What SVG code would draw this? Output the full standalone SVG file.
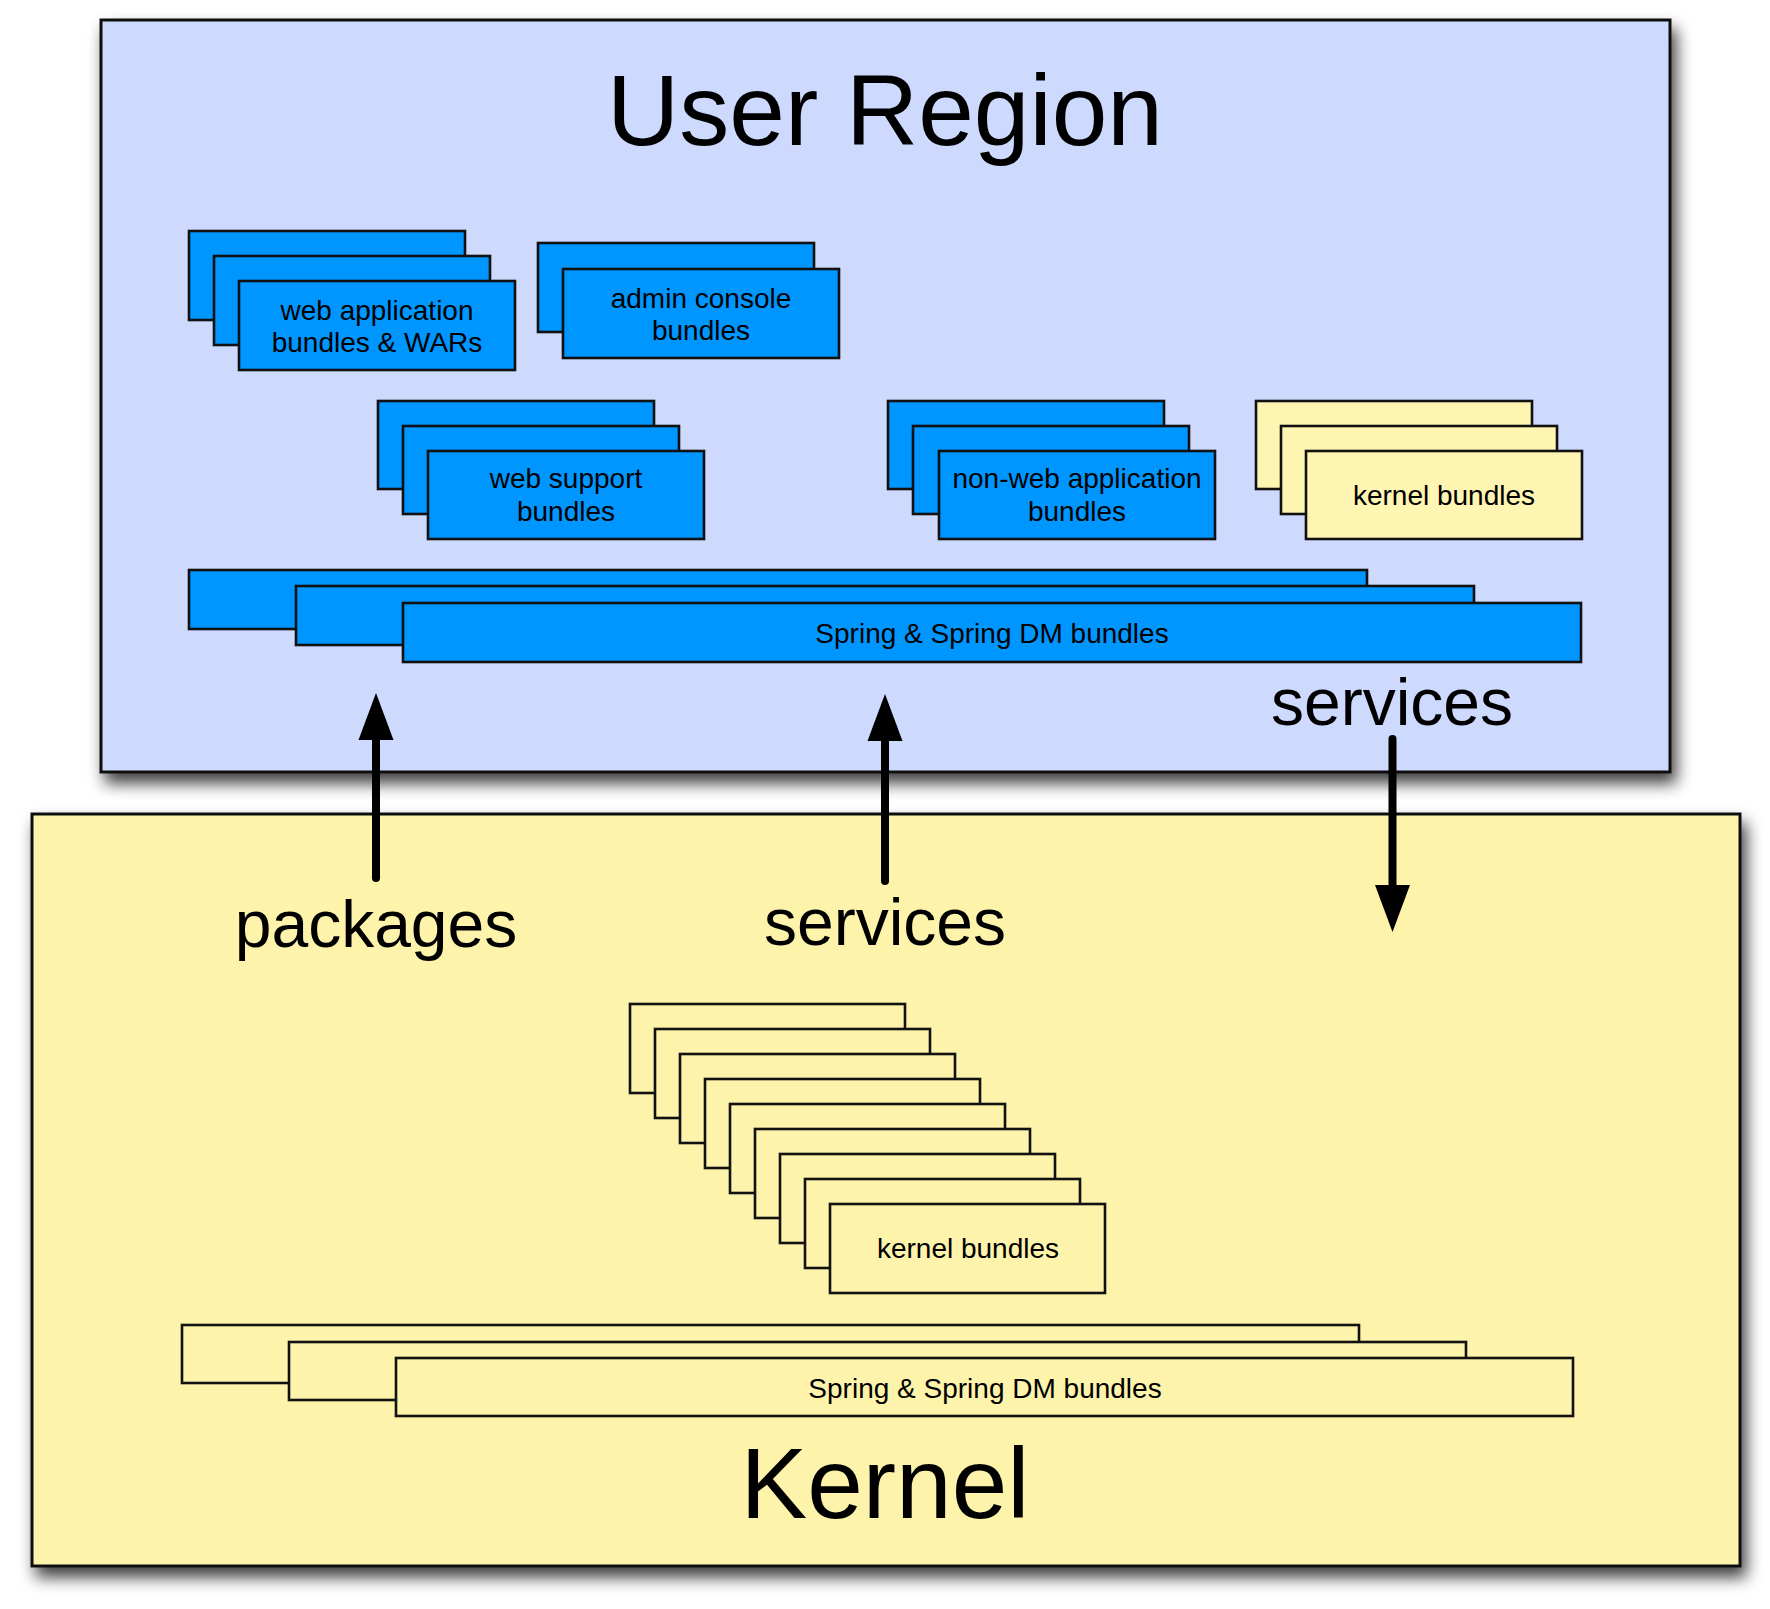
<svg xmlns="http://www.w3.org/2000/svg" width="1770" height="1609" viewBox="0 0 1770 1609">
<defs>
<filter id="shadow" x="-5%" y="-5%" width="115%" height="120%">
<feDropShadow dx="5" dy="10" stdDeviation="8" flood-color="#000" flood-opacity="0.75"/>
</filter>
<marker id="head" markerUnits="userSpaceOnUse" markerWidth="48" markerHeight="36" viewBox="0 0 48 36" refX="0" refY="18" orient="auto">
<path d="M0,0.5 L47,18 L0,35.5 z" fill="#000"/>
</marker>
</defs>
<style>
.region{stroke:#111;stroke-width:3}
.user{fill:#cdd9fd}
.kern{fill:#fdf3ab}
.b{fill:#0096ff;stroke:#111;stroke-width:2.6}
.k{fill:#fff5b2;stroke:#111;stroke-width:2.6}
.kk{fill:#fdf3ab;stroke:#111;stroke-width:2.6}
text{font-family:"Liberation Sans",Arial,Helvetica,sans-serif;fill:#000;text-anchor:middle}
.lbl{font-size:28px}
.big{font-size:100px}
.mid{font-size:66px}
.arrow{stroke:#000;stroke-width:8;stroke-linecap:round;fill:none}
</style>
<rect width="1770" height="1609" fill="#fff"/>
<g id="user-region">
<rect class="region user" x="101" y="20" width="1569" height="752" filter="url(#shadow)"/>
<text class="big" x="885" y="145">User Region</text>
</g>
<g id="kernel">
<rect class="region kern" x="32" y="814" width="1708" height="752" filter="url(#shadow)"/>
<text class="big" x="885" y="1518">Kernel</text>
</g>
<g id="web-application-bundles">
<rect class="b" x="189" y="231" width="276" height="89"/>
<rect class="b" x="214" y="256" width="276" height="89"/>
<rect class="b" x="239" y="281" width="276" height="89"/>
<text class="lbl" x="377" y="320">web application</text>
<text class="lbl" x="377" y="352">bundles &amp; WARs</text>
</g>
<g id="admin-console-bundles">
<rect class="b" x="538" y="243" width="276" height="89"/>
<rect class="b" x="563" y="269" width="276" height="89"/>
<text class="lbl" x="701" y="308">admin console</text>
<text class="lbl" x="701" y="340">bundles</text>
</g>
<g id="web-support-bundles">
<rect class="b" x="378" y="401" width="276" height="88"/>
<rect class="b" x="403" y="426" width="276" height="88"/>
<rect class="b" x="428" y="451" width="276" height="88"/>
<text class="lbl" x="566" y="488">web support</text>
<text class="lbl" x="566" y="521">bundles</text>
</g>
<g id="non-web-application-bundles">
<rect class="b" x="888" y="401" width="276" height="88"/>
<rect class="b" x="913" y="426" width="276" height="88"/>
<rect class="b" x="939" y="451" width="276" height="88"/>
<text class="lbl" x="1077" y="488">non-web application</text>
<text class="lbl" x="1077" y="521">bundles</text>
</g>
<g id="user-kernel-bundles">
<rect class="k" x="1256" y="401" width="276" height="88"/>
<rect class="k" x="1281" y="426" width="276" height="88"/>
<rect class="k" x="1306" y="451" width="276" height="88"/>
<text class="lbl" x="1444" y="505">kernel bundles</text>
</g>
<g id="user-spring-bundles">
<rect class="b" x="189" y="570" width="1178" height="59"/>
<rect class="b" x="296" y="586" width="1178" height="59"/>
<rect class="b" x="403" y="603" width="1178" height="59"/>
<text class="lbl" x="992" y="643">Spring &amp; Spring DM bundles</text>
</g>
<g id="kernel-bundles">
<rect class="kk" x="630" y="1004" width="275" height="89"/>
<rect class="kk" x="655" y="1029" width="275" height="89"/>
<rect class="kk" x="680" y="1054" width="275" height="89"/>
<rect class="kk" x="705" y="1079" width="275" height="89"/>
<rect class="kk" x="730" y="1104" width="275" height="89"/>
<rect class="kk" x="755" y="1129" width="275" height="89"/>
<rect class="kk" x="780" y="1154" width="275" height="89"/>
<rect class="kk" x="805" y="1179" width="275" height="89"/>
<rect class="kk" x="830" y="1204" width="275" height="89"/>
<text class="lbl" x="968" y="1258">kernel bundles</text>
</g>
<g id="kernel-spring-bundles">
<rect class="kk" x="182" y="1325" width="1177" height="58"/>
<rect class="kk" x="289" y="1342" width="1177" height="58"/>
<rect class="kk" x="396" y="1358" width="1177" height="58"/>
<text class="lbl" x="985" y="1398">Spring &amp; Spring DM bundles</text>
</g>
<g id="connectors">
<path class="arrow" d="M376,878 L376,740" marker-end="url(#head)"/>
<path class="arrow" d="M885,881 L885,741" marker-end="url(#head)"/>
<path class="arrow" d="M1392.5,739 L1392.5,885" marker-end="url(#head)"/>
<text class="mid" x="376" y="947">packages</text>
<text class="mid" x="885" y="945">services</text>
<text class="mid" x="1392" y="725">services</text>
</g>
</svg>
